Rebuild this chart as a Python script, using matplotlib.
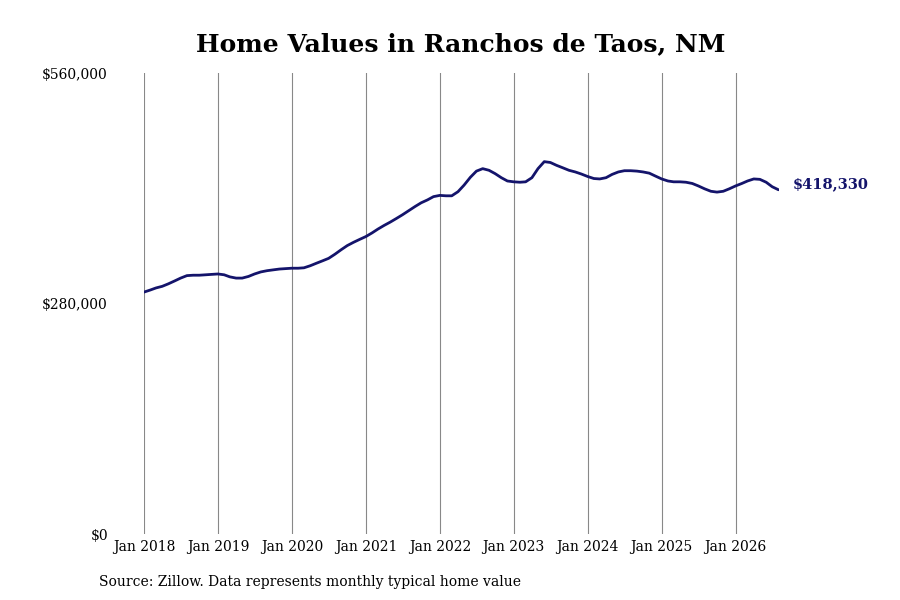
import matplotlib
matplotlib.use("Agg")
import matplotlib.pyplot as plt
import matplotlib.dates as mdates
import numpy as np
import pandas as pd

plt.rcParams['font.family'] = ['DejaVu Serif']

# monthly typical home value, Jan 2018 .. Aug 2026 (thousands of dollars)
values_2018 = [294, 296.5, 299, 301, 304, 307.5, 311, 314, 314.5, 314.5, 315, 315.5]
values_2019 = [316, 315, 312.5, 311, 311, 313, 316, 318.5, 320, 321, 322, 322.5]
values_2020 = [323, 323, 323.5, 326, 329, 332, 335, 340, 345.5, 350.5, 354.5, 358]
values_2021 = [361.5, 366, 370.5, 375, 379, 383.5, 388, 393, 398, 402.5, 406, 410]
values_2022 = [411.5, 411, 411, 416, 424, 433.5, 441, 444, 442, 438, 433, 429]
values_2023 = [428, 427.5, 428, 433, 444, 452.5, 451.5, 448, 445, 442, 440, 437.5]
values_2024 = [434.5, 432, 431.5, 433, 437, 440, 441.5, 441.5, 441, 440, 438.5, 435]
values_2025 = [431.5, 429, 428, 428, 427.5, 426, 423, 419.5, 416.5, 415.5, 416.5, 419.5]
values_2026 = [423, 426, 429, 431.5, 431, 427.5, 422, 418.33]

values = np.array(values_2018 + values_2019 + values_2020 + values_2021 + values_2022
                  + values_2023 + values_2024 + values_2025 + values_2026) * 1000
dates = pd.date_range("2018-01-01", periods=len(values), freq="MS")
last_label = "$418,330"
y_ticks = [0, 280000, 560000]
y_labels = ["$0", "$280,000", "$560,000"]

fig = plt.figure(figsize=(9, 6), dpi=100)
ax = fig.add_axes([0.16, 0.11, 0.705, 0.768])

ax.plot(dates, values, color="#14146b", lw=2, solid_capstyle="round")
ax.set_xlim(dates[0], dates[-1])
ax.set_ylim(0, 560000)

ax.xaxis.set_major_locator(mdates.YearLocator())
ax.xaxis.set_major_formatter(mdates.DateFormatter("Jan %Y"))
ax.grid(axis="x", color="#888888", lw=0.8)
ax.set_yticks(y_ticks)
ax.set_yticklabels(y_labels)
for s in ax.spines.values():
    s.set_visible(False)
ax.tick_params(axis="x", length=0, labelsize=10, pad=4)
ax.tick_params(axis="y", length=0, labelsize=10, pad=26)

ax.annotate(last_label, xy=(dates[-1], values[-1]), xytext=(10, 4), textcoords="offset points",
            color="#14146b", fontsize=10.5, fontweight="bold", va="center", ha="left")

fig.text(0.512, 0.927, "Home Values in Ranchos de Taos, NM", ha="center", va="center",
         fontsize=18, fontweight="bold")
fig.text(0.11, 0.03, "Source: Zillow. Data represents monthly typical home value",
         ha="left", va="center", fontsize=10)

fig.savefig("out.png", dpi=100)
